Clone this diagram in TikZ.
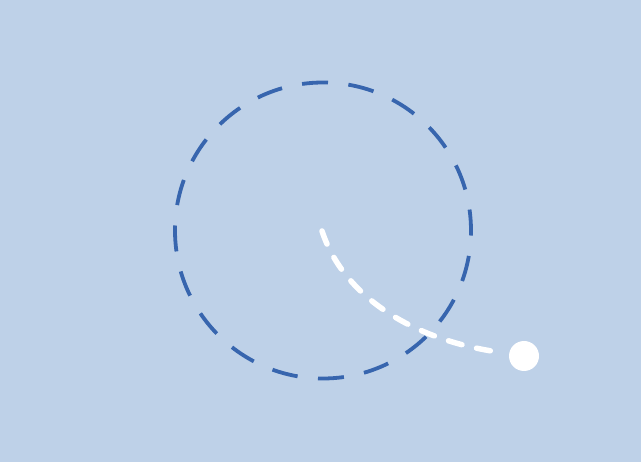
\documentclass[tikz,border=0pt]{standalone}
\definecolor{bgblue}{RGB}{190,209,232}
\definecolor{dashblue}{RGB}{55,101,174}
\begin{document}
\begin{tikzpicture}[x=1pt,y=-1pt,
  orbit/.style={draw=dashblue,line width=3.8pt,dash pattern=on 26pt off 20.5pt},
  trail/.style={draw=white,line width=5.5pt,line cap=round,dash pattern=on 14pt off 15pt},
  ball/.style={circle,fill=white,minimum size=30pt,inner sep=0pt}]
  \fill[bgblue] (0,0) rectangle (641,462);
  \useasboundingbox (0,0) rectangle (641,462);
  \coordinate (c) at (323,230.5);
  \node[circle,minimum size=296pt,inner sep=0pt,orbit,dash phase=5pt] (orb) at (c) {};
  \node[ball] (dot) at (524,356) {};
  \coordinate (tend) at (498,352);
  \draw[trail] (322,231) .. controls (344,298) and (415,340) .. (tend);
\end{tikzpicture}
\end{document}
